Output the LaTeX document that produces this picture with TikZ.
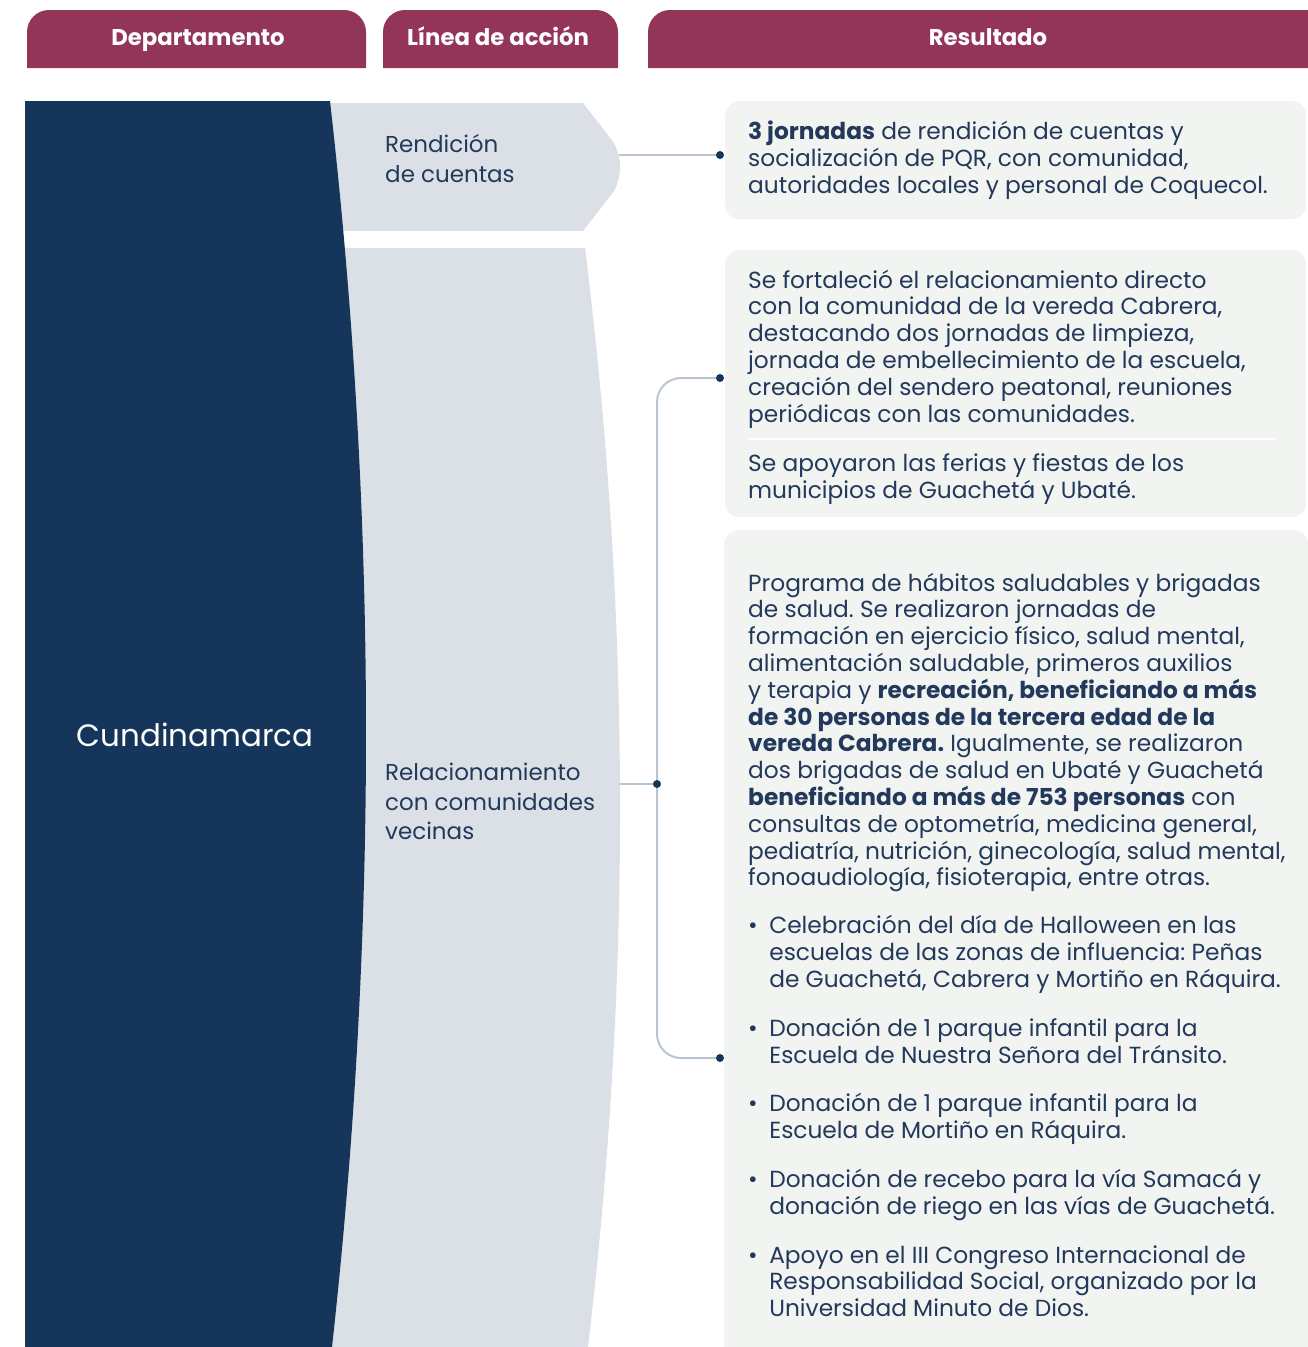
\documentclass[tikz,border=0pt]{standalone}
\usepackage{fontspec}
\setmainfont{Poppins}
\frenchspacing
\usetikzlibrary{positioning}

\definecolor{headred}{HTML}{923559}
\definecolor{navy}{HTML}{15365A}
\definecolor{lightblue}{HTML}{DBE0E7}
\definecolor{cardgray}{HTML}{F2F4F2}
\definecolor{txtblue}{HTML}{23395B}
\definecolor{linegray}{HTML}{B9C5D0}

\begin{document}
\begin{tikzpicture}[
    x=1pt, y=-1pt,
    tab/.style={fill=headred, rounded corners=22pt},
    headtxt/.style={anchor=base, text=white, font=\fontsize{22.8}{26}\selectfont\bfseries},
    card/.style={fill=cardgray, rounded corners=14pt, anchor=north west, inner sep=0pt},
    bodytxt/.style={anchor=north west, align=left, inner sep=0pt, text=txtblue, font=\fontsize{23.3}{26.8}\selectfont},
    linetxt/.style={anchor=north west, align=left, inner sep=0pt, text=txtblue, font=\fontsize{23}{29.8}\selectfont},
    conn/.style={draw=linegray, line width=2pt},
    dot/.style={fill=navy}
  ]
    \clip (0,0) rectangle (1308,1347);

    % encabezados
    \fill[tab] (27,68) -- (27,10) -- (366,10) -- (366,68);
    \fill[tab] (383,68) -- (383,10) -- (618,10) -- (618,68);
    \fill[tab] (648,68) -- (648,10) -- (1330,10) -- (1330,68);
    \node[headtxt] (dep) at (198,45) {Departamento};
    \node[headtxt] (lin) at (498,45) {Línea de acción};
    \node[headtxt] (res) at (988,45) {Resultado};

    % líneas de acción
    \fill[lightblue] (300,103) -- (583,103) [rounded corners=36pt] -- (633,167) [sharp corners] -- (583,231) -- (300,231) -- cycle;
    \fill[lightblue] (300,248) -- (585,248) .. controls (630.7,614) and (631.7,980.3) .. (588,1347) -- (300,1347) -- cycle;

    % departamento
    \fill[navy] (25,101) -- (330,101) .. controls (377.3,516.3) and (378,931.7) .. (332,1347) -- (25,1347) -- cycle;
    \node[text=white, font=\fontsize{30.9}{36}\selectfont] (cund) at (195,735) {Cundinamarca};

    \node[linetxt] (rend) at (385,134.6) {Rendición\\de cuentas};
    \node[linetxt] (rel) at (385,762.6) {Relacionamiento\\con comunidades\\vecinas};

    % resultados
    \node[card, minimum width=581pt, minimum height=118pt] (card1) at (725,101) {};
    \node[card, minimum width=581pt, minimum height=267pt] (card2) at (725,250) {};
    \node[card, minimum width=584pt, minimum height=850pt] (card3) at (724,530) {};
    \draw[white, line width=2pt] (748,439) -- (1276,439);

    \node[bodytxt, below right=19.6pt and 23pt of card1.north west] (txt1) {\textbf{3 jornadas} de rendición de cuentas y\\
      socialización de PQR, con comunidad,\\
      autoridades locales y personal de Coquecol.};
    \node[bodytxt, below right=19.6pt and 23pt of card2.north west] (txt2) {Se fortaleció el relacionamiento directo\\
      con la comunidad de la vereda Cabrera,\\
      destacando dos jornadas de limpieza,\\
      jornada de embellecimiento de la escuela,\\
      creación del sendero peatonal, reuniones\\
      periódicas con las comunidades.};
    \node[bodytxt] (txt3) at (748,453.6) {Se apoyaron las ferias y fiestas de los\\
      municipios de Guachetá y Ubaté.};
    \node[bodytxt, below right=42.6pt and 24pt of card3.north west] (txt4) {Programa de hábitos saludables y brigadas\\
      de salud. Se realizaron jornadas de\\
      formación en ejercicio físico, salud mental,\\
      alimentación saludable, primeros auxilios\\
      y terapia y \textbf{recreación, beneficiando a más}\\
      \textbf{de 30 personas de la tercera edad de la}\\
      \textbf{vereda Cabrera.} Igualmente, se realizaron\\
      dos brigadas de salud en Ubaté y Guachetá\\
      \textbf{beneficiando a más de 753 personas} con\\
      consultas de optometría, medicina general,\\
      pediatría, nutrición, ginecología, salud mental,\\
      fonoaudiología, fisioterapia, entre otras.};
    \node[bodytxt] (items) at (748,915) {%
      \begin{tabular}{@{}l@{\hspace{11.5pt}}l@{}}
        • & Celebración del día de Halloween en las\\
          & escuelas de las zonas de influencia: Peñas\\
          & de Guachetá, Cabrera y Mortiño en Ráquira.\\[22pt]
        • & Donación de 1 parque infantil para la\\
          & Escuela de Nuestra Señora del Tránsito.\\[22pt]
        • & Donación de 1 parque infantil para la\\
          & Escuela de Mortiño en Ráquira.\\[22pt]
        • & Donación de recebo para la vía Samacá y\\
          & donación de riego en las vías de Guachetá.\\[22pt]
        • & Apoyo en el III Congreso Internacional de\\
          & Responsabilidad Social, organizado por la\\
          & Universidad Minuto de Dios.
      \end{tabular}};

    % conectores
    \coordinate (tip1) at (619,155);
    \coordinate (d1) at (720,155);
    \coordinate (tip2) at (619,784);
    \coordinate (j) at (657,784);
    \coordinate (d2) at (720,378);
    \coordinate (d3) at (720,1058);
    \draw[conn] (tip1) -- (d1);
    \draw[conn] (tip2) -- (j);
    \draw[conn, rounded corners=24pt] (d2) -| (j) |- (d3);
    \fill[dot] (d1) circle (4pt);
    \fill[dot] (j) circle (4pt);
    \fill[dot] (d2) circle (4pt);
    \fill[dot] (d3) circle (4pt);
  \end{tikzpicture}
\end{document}
